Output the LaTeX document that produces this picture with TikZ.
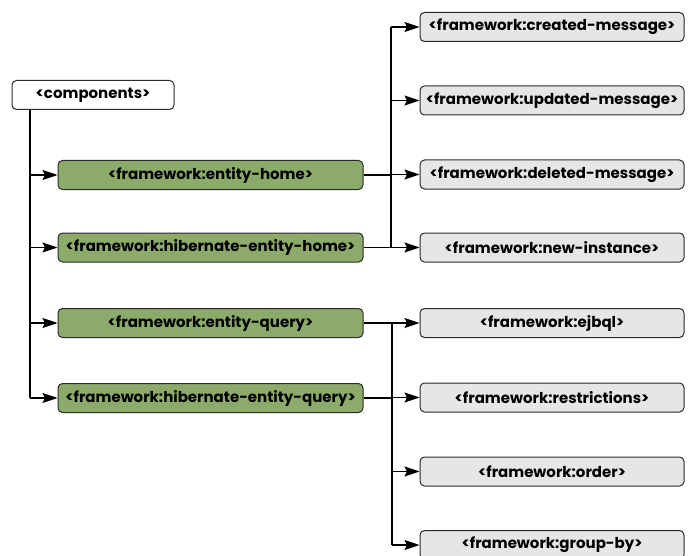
\documentclass[tikz,border=0pt]{standalone}
\usepackage{fontspec}
\setmainfont{Poppins}
\usetikzlibrary{arrows.meta}
\definecolor{boxgreen}{HTML}{8CAA6A}
\definecolor{boxgray}{HTML}{E6E6E8}
\definecolor{edge}{HTML}{2A2A2A}
\tikzset{
  basebox/.style={draw=edge, line width=1pt, rounded corners=4.5pt, minimum height=29pt, inner sep=0pt, font=\bfseries\fontsize{15}{17}\selectfont, text=black},
  rootbox/.style={basebox, fill=white, minimum width=162pt},
  greenbox/.style={basebox, fill=boxgreen, minimum width=305pt},
  graybox/.style={basebox, fill=boxgray, minimum width=264pt},
  conn/.style={line width=1.1pt, draw=black},
  arr/.style={conn, -{Stealth[length=15pt,width=10pt,inset=2.5pt]}},
}
\begin{document}
\begin{tikzpicture}[x=1pt,y=-1pt]
\useasboundingbox (0,0) rectangle (690,556);
\node[rootbox] (comp) at (93,95) {<components>};
\node[greenbox] (eh) at (210.5,175) {<framework:entity-home>};
\node[greenbox] (heh) at (210.5,247.5) {<framework:hibernate-entity-home>};
\node[greenbox] (eq) at (210.5,323) {<framework:entity-query>};
\node[greenbox] (heq) at (210.5,398) {<framework:hibernate-entity-query>};
\node[graybox] (cm) at (552,27) {<framework:created-message>};
\node[graybox] (um) at (552,100.5) {<framework:updated-message>};
\node[graybox] (dm) at (552,174.5) {<framework:deleted-message>};
\node[graybox] (ni) at (552,247.5) {<framework:new-instance>};
\node[graybox] (ej) at (552,323) {<framework:ejbql>};
\node[graybox] (re) at (552,397.5) {<framework:restrictions>};
\node[graybox] (or) at (552,471.5) {<framework:order>};
\node[graybox] (gb) at (552,545) {<framework:group-by>};
% trunk
\draw[conn] (comp.south -| 30,0) -- (30,0 |- heq.west);
\foreach \n in {eh,heh,eq,heq} \draw[arr] (30,0 |- \n.west) -- (\n.west);
% upper branch
\draw[conn] (391,0 |- cm.west) -- (391,0 |- ni.west);
\draw[conn] (eh.east) -- (391,0 |- eh.east);
\draw[conn] (heh.east) -- (391,0 |- heh.east);
\foreach \n in {cm,um,dm,ni} \draw[arr] (391,0 |- \n.west) -- (\n.west);
% lower branch
\draw[conn] (392,0 |- ej.west) -- (392,0 |- gb.west);
\draw[conn] (eq.east) -- (392,0 |- eq.east);
\draw[conn] (heq.east) -- (392,0 |- heq.east);
\foreach \n in {ej,re,or,gb} \draw[arr] (392,0 |- \n.west) -- (\n.west);
\end{tikzpicture}
\end{document}
